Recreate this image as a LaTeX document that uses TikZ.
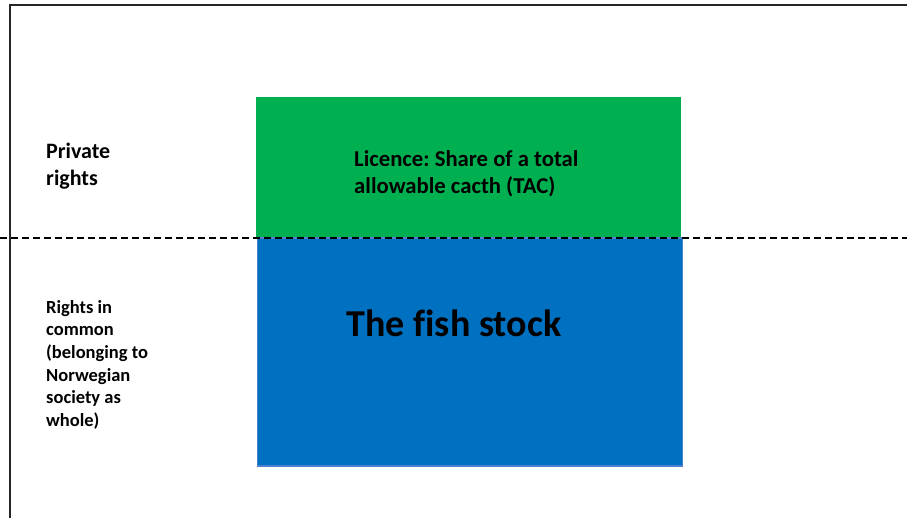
\documentclass[tikz,border=0pt]{standalone}
\usepackage{fontspec}
\setmainfont{Carlito}[Ligatures=NoCommon]
\frenchspacing
\definecolor{licgreen}{HTML}{00B050}
\definecolor{stockblue}{HTML}{0070C0}
\definecolor{stockedge}{HTML}{4F7FCF}
\begin{document}
\begin{tikzpicture}[x=1pt,y=-1pt,
  frameline/.style={line width=2pt,draw=black!85},
  divider/.style={line width=2.3pt,dash pattern=on 7pt off 4pt},
  label/.style={inner sep=0pt,anchor=base west,align=left,font=\bfseries}]
  \useasboundingbox[fill=white] (0,0) rectangle (907,517);
  % outer frame: top and left edges
  \draw[frameline] (10,518) -- (10,5) -- (908,5);
  % licence (private part) and the fish stock (common part)
  \fill[licgreen] (256,97) rectangle (681,238);
  \filldraw[fill=stockblue,draw=stockedge,line width=1.5pt] (257.5,238) rectangle (682.5,466);
  % border between private rights and rights in common
  \coordinate (divL) at (0,238);
  \coordinate (divR) at (907,238);
  \draw[divider] (divL) -- (divR);
  % texts (anchored at the baseline of their last line)
  \node[label,font=\bfseries\fontsize{22}{27}\selectfont] (priv) at (46,185) {Private\\rights};
  \node[label,font=\bfseries\fontsize{18.5}{22.7}\selectfont] (common) at (46,426.5)
    {Rights in\\common\\(belonging to\\Norwegian\\society as\\whole)};
  \node[label,font=\bfseries\fontsize{22.7}{27}\selectfont] (lic) at (354,193)
    {Licence: Share of a total\\allowable cacth (TAC)};
  \node[label,font=\bfseries\fontsize{38}{40}\selectfont] (stock) at (346.5,336) {The fish stock};
\end{tikzpicture}
\end{document}
